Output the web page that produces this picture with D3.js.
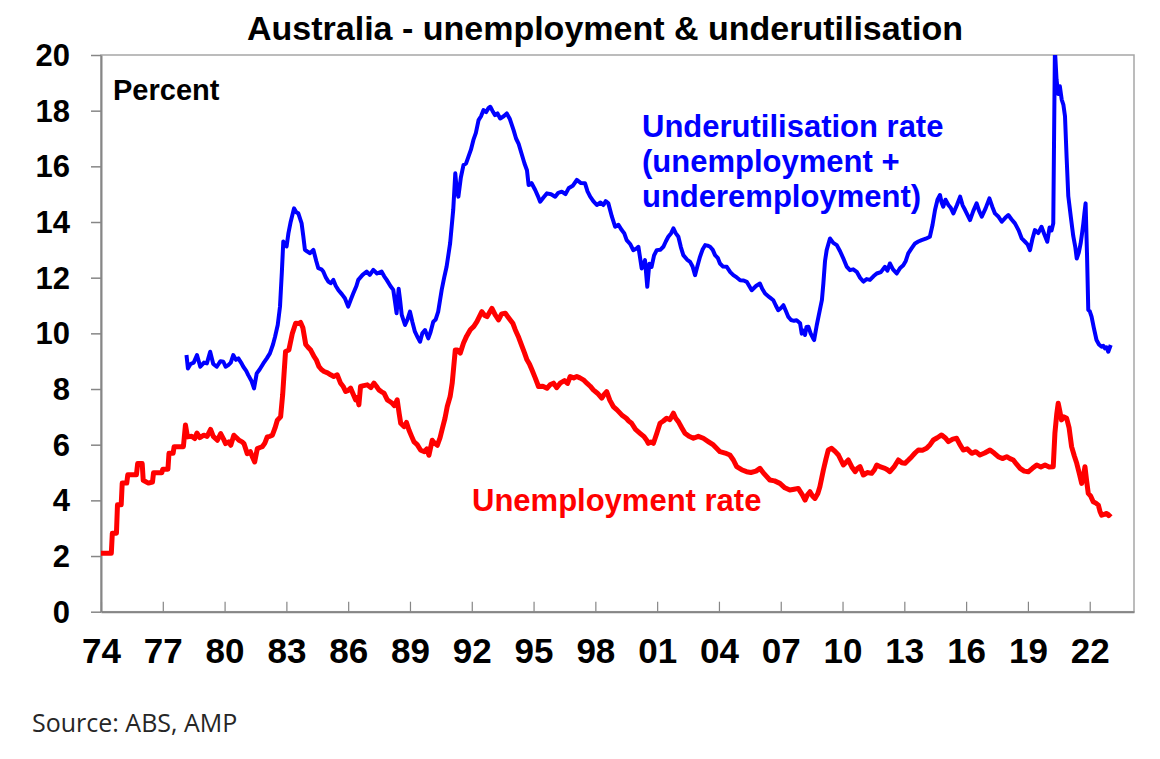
<!DOCTYPE html>
<html>
<head>
<meta charset="utf-8">
<script src="https://cdn.jsdelivr.net/npm/d3@7"></script>
<style>
  body { margin: 0; background: #fff; }
  text { font-family: Arial, "Liberation Sans", sans-serif; }
</style>
</head>
<body>
<div id="chart"></div>
<script>
// [decimal year, percent]
const unemployment = [
  [1974.00,2.10],[1974.50,2.10],[1974.55,2.82],[1974.75,2.82],[1974.80,3.84],[1974.98,3.84],[1975.03,4.62],[1975.25,4.62],
  [1975.30,4.92],[1975.72,4.92],[1975.78,5.32],[1976.00,5.32],[1976.05,4.72],[1976.30,4.62],[1976.50,4.66],[1976.55,4.99],
  [1976.95,4.99],[1977.00,5.12],[1977.25,5.12],[1977.30,5.69],[1977.50,5.69],[1977.55,5.93],[1978.00,5.93],[1978.10,6.71],
  [1978.20,6.28],[1978.40,6.30],[1978.55,6.22],[1978.66,6.42],[1978.80,6.25],[1978.99,6.34],[1979.15,6.30],[1979.32,6.55],
  [1979.45,6.30],[1979.65,6.16],[1979.81,6.40],[1979.95,6.20],[1980.05,6.04],[1980.20,6.10],[1980.30,5.98],[1980.45,6.34],
  [1980.58,6.25],[1980.70,6.16],[1980.85,6.10],[1980.94,6.04],[1981.10,5.68],[1981.25,5.75],[1981.35,5.56],[1981.46,5.38],
  [1981.59,5.86],[1981.72,5.90],[1981.83,5.93],[1981.95,6.05],[1982.07,6.28],[1982.20,6.30],[1982.32,6.34],[1982.45,6.60],
  [1982.56,6.88],[1982.72,7.00],[1982.82,7.80],[1982.90,8.70],[1982.96,9.35],[1983.12,9.40],[1983.29,10.00],[1983.45,10.36],
  [1983.60,10.35],[1983.69,10.39],[1983.80,10.20],[1983.94,9.60],[1984.05,9.50],[1984.18,9.40],[1984.34,9.17],[1984.45,9.05],
  [1984.58,8.81],[1984.70,8.70],[1984.83,8.63],[1985.00,8.58],[1985.15,8.51],[1985.30,8.45],[1985.47,8.51],[1985.63,8.21],
  [1985.75,8.10],[1985.88,7.91],[1986.00,7.95],[1986.12,8.03],[1986.25,7.80],[1986.36,7.61],[1986.45,7.70],[1986.52,7.43],
  [1986.60,8.09],[1986.75,8.12],[1986.93,8.15],[1987.10,8.05],[1987.25,8.21],[1987.37,8.10],[1987.49,7.97],[1987.62,7.90],
  [1987.74,7.85],[1987.90,7.61],[1988.02,7.55],[1988.14,7.49],[1988.25,7.40],[1988.38,7.61],[1988.48,7.10],[1988.55,6.77],
  [1988.71,6.65],[1988.83,6.80],[1988.95,6.53],[1989.08,6.30],[1989.20,6.10],[1989.35,6.00],[1989.52,5.80],[1989.70,5.75],
  [1989.82,5.85],[1989.92,5.62],[1990.08,6.16],[1990.20,6.05],[1990.33,5.98],[1990.46,6.25],[1990.57,6.58],[1990.70,6.95],
  [1990.81,7.37],[1990.95,7.73],[1991.05,8.21],[1991.20,9.40],[1991.30,9.40],[1991.44,9.29],[1991.60,9.65],[1991.75,9.90],
  [1991.93,10.13],[1992.10,10.25],[1992.25,10.42],[1992.37,10.60],[1992.49,10.78],[1992.62,10.65],[1992.74,10.60],[1992.86,10.75],
  [1992.98,10.90],[1993.15,10.65],[1993.30,10.48],[1993.45,10.70],[1993.63,10.72],[1993.75,10.60],[1993.87,10.48],[1994.00,10.35],
  [1994.11,10.13],[1994.28,9.85],[1994.44,9.53],[1994.56,9.30],[1994.68,9.05],[1994.80,8.90],[1994.92,8.69],[1995.08,8.40],
  [1995.24,8.09],[1995.45,8.10],[1995.65,8.03],[1995.80,8.15],[1995.97,8.21],[1996.12,8.05],[1996.29,8.21],[1996.50,8.30],
  [1996.65,8.20],[1996.78,8.45],[1996.95,8.40],[1997.10,8.45],[1997.25,8.40],[1997.42,8.33],[1997.60,8.20],[1997.75,8.10],
  [1997.90,7.97],[1998.10,7.85],[1998.31,7.67],[1998.42,7.80],[1998.55,7.91],[1998.70,7.60],[1998.87,7.37],[1999.05,7.25],
  [1999.28,7.07],[1999.50,6.95],[1999.62,6.85],[1999.76,6.77],[1999.95,6.55],[2000.17,6.41],[2000.35,6.30],[2000.50,6.15],
  [2000.57,6.05],[2000.70,6.10],[2000.82,6.05],[2000.98,6.40],[2001.14,6.77],[2001.30,6.85],[2001.46,6.95],[2001.62,6.90],
  [2001.79,7.13],[2001.90,6.95],[2002.03,6.83],[2002.20,6.60],[2002.35,6.41],[2002.55,6.30],[2002.76,6.23],[2003.00,6.30],
  [2003.24,6.23],[2003.50,6.10],[2003.73,5.99],[2004.05,5.75],[2004.30,5.70],[2004.53,5.63],[2004.70,5.45],[2004.86,5.21],
  [2005.10,5.10],[2005.34,5.03],[2005.55,5.00],[2005.80,5.05],[2005.99,5.15],[2006.20,4.95],[2006.47,4.73],[2006.70,4.70],
  [2006.96,4.61],[2007.20,4.45],[2007.44,4.37],[2007.65,4.40],[2007.85,4.43],[2008.05,4.20],[2008.18,4.01],[2008.30,4.20],
  [2008.42,4.31],[2008.55,4.15],[2008.66,4.07],[2008.80,4.25],[2008.90,4.49],[2009.07,5.09],[2009.20,5.50],[2009.31,5.81],
  [2009.47,5.87],[2009.65,5.75],[2009.80,5.63],[2009.92,5.45],[2010.04,5.27],[2010.15,5.35],[2010.28,5.45],[2010.45,5.20],
  [2010.61,5.03],[2010.73,5.15],[2010.85,5.21],[2011.01,4.91],[2011.20,5.00],[2011.41,4.97],[2011.55,5.10],[2011.66,5.27],
  [2011.85,5.20],[2012.06,5.15],[2012.18,5.10],[2012.30,5.03],[2012.50,5.20],[2012.71,5.45],[2012.88,5.35],[2013.03,5.33],
  [2013.20,5.45],[2013.36,5.57],[2013.52,5.70],[2013.68,5.81],[2013.88,5.80],[2014.08,5.87],[2014.25,6.00],[2014.41,6.17],
  [2014.60,6.25],[2014.81,6.35],[2014.98,6.25],[2015.14,6.11],[2015.35,6.20],[2015.54,6.23],[2015.70,6.00],[2015.86,5.81],
  [2016.05,5.85],[2016.27,5.69],[2016.47,5.75],[2016.67,5.63],[2016.90,5.70],[2017.16,5.81],[2017.36,5.70],[2017.56,5.57],
  [2017.76,5.50],[2017.97,5.57],[2018.13,5.50],[2018.29,5.45],[2018.45,5.30],[2018.62,5.15],[2018.82,5.05],[2019.02,5.03],
  [2019.22,5.15],[2019.43,5.27],[2019.63,5.20],[2019.83,5.27],[2020.03,5.20],[2020.23,5.21],[2020.31,6.41],[2020.40,7.10],
  [2020.47,7.49],[2020.55,7.20],[2020.63,6.89],[2020.75,7.00],[2020.88,6.95],[2021.00,6.60],[2021.12,5.93],[2021.25,5.60],
  [2021.37,5.33],[2021.50,4.95],[2021.61,4.61],[2021.70,4.90],[2021.77,5.21],[2021.85,4.70],[2021.93,4.25],[2022.05,4.15],
  [2022.17,3.95],[2022.30,3.90],[2022.42,3.83],[2022.50,3.60],[2022.58,3.47],[2022.70,3.50],[2022.82,3.53],[2022.92,3.45],
  [2023.02,3.53]
];

const underutilisation = [
  [1978.15,9.22],[1978.22,8.74],[1978.35,8.90],[1978.50,8.95],[1978.66,9.22],[1978.82,8.80],[1979.00,8.95],[1979.14,8.92],
  [1979.30,9.34],[1979.45,8.90],[1979.62,8.80],[1979.80,9.00],[1979.94,8.98],[1980.05,8.80],[1980.18,8.86],[1980.30,8.95],
  [1980.42,9.22],[1980.55,9.05],[1980.67,9.10],[1980.80,8.95],[1980.91,8.80],[1981.05,8.65],[1981.15,8.50],[1981.30,8.30],
  [1981.43,8.02],[1981.56,8.56],[1981.70,8.70],[1981.88,8.92],[1982.05,9.10],[1982.20,9.28],[1982.35,9.60],[1982.45,9.88],
  [1982.58,10.30],[1982.69,10.96],[1982.78,12.20],[1982.85,13.30],[1983.01,13.12],[1983.10,13.60],[1983.21,14.01],[1983.37,14.49],
  [1983.48,14.35],[1983.58,14.31],[1983.74,13.95],[1983.82,13.50],[1983.90,13.00],[1984.00,12.95],[1984.15,12.88],[1984.31,13.00],
  [1984.45,12.60],[1984.55,12.34],[1984.70,12.30],[1984.79,12.22],[1984.92,12.00],[1985.04,11.86],[1985.15,11.80],[1985.28,11.92],
  [1985.40,11.70],[1985.52,11.56],[1985.70,11.40],[1985.84,11.26],[1986.00,10.96],[1986.12,11.20],[1986.25,11.44],[1986.40,11.70],
  [1986.49,11.92],[1986.70,12.10],[1986.90,12.22],[1987.05,12.10],[1987.22,12.28],[1987.40,12.15],[1987.62,12.22],[1987.75,12.05],
  [1987.87,11.92],[1988.05,11.70],[1988.19,11.56],[1988.28,11.10],[1988.35,10.72],[1988.45,11.60],[1988.52,11.20],[1988.60,10.66],
  [1988.76,10.30],[1988.88,10.50],[1989.00,10.78],[1989.12,10.40],[1989.24,10.06],[1989.38,9.85],[1989.49,9.70],[1989.60,10.00],
  [1989.73,10.12],[1989.89,9.82],[1990.00,10.05],[1990.13,10.42],[1990.25,10.50],[1990.37,10.78],[1990.54,11.56],[1990.66,12.00],
  [1990.78,12.40],[1990.95,13.24],[1991.10,14.44],[1991.20,15.75],[1991.27,15.15],[1991.35,14.91],[1991.47,15.60],[1991.60,16.05],
  [1991.72,16.10],[1991.84,16.35],[1991.96,16.60],[1992.08,16.95],[1992.20,17.20],[1992.33,17.66],[1992.45,17.80],[1992.57,18.02],
  [1992.70,17.95],[1992.82,18.10],[1992.90,18.14],[1993.00,18.00],[1993.13,17.84],[1993.25,17.90],[1993.38,17.72],[1993.55,17.80],
  [1993.70,17.90],[1993.85,17.70],[1994.03,17.30],[1994.15,17.00],[1994.27,16.82],[1994.44,16.40],[1994.56,16.10],[1994.68,15.86],
  [1994.76,15.33],[1994.90,15.40],[1995.08,15.15],[1995.20,14.95],[1995.32,14.73],[1995.50,14.90],[1995.65,15.03],[1995.85,15.00],
  [1996.05,14.91],[1996.20,15.05],[1996.37,15.09],[1996.55,15.00],[1996.70,15.21],[1996.90,15.30],[1997.10,15.51],[1997.30,15.40],
  [1997.50,15.39],[1997.62,15.10],[1997.75,14.91],[1997.90,14.75],[1998.07,14.61],[1998.25,14.70],[1998.39,14.61],[1998.50,14.75],
  [1998.63,14.67],[1998.80,14.20],[1998.96,13.83],[1999.12,13.90],[1999.28,13.71],[1999.40,13.60],[1999.52,13.35],[1999.70,13.20],
  [1999.84,12.99],[2000.00,13.05],[2000.09,13.11],[2000.25,12.33],[2000.41,12.63],[2000.52,11.67],[2000.62,12.50],[2000.73,12.39],
  [2000.85,12.80],[2000.98,12.99],[2001.15,13.00],[2001.30,13.11],[2001.42,13.30],[2001.54,13.47],[2001.68,13.60],[2001.79,13.77],
  [2001.90,13.60],[2002.03,13.47],[2002.15,13.10],[2002.27,12.81],[2002.45,12.65],[2002.60,12.57],[2002.72,12.40],[2002.84,12.09],
  [2002.95,12.40],[2003.08,12.75],[2003.20,13.00],[2003.33,13.17],[2003.45,13.15],[2003.57,13.11],[2003.70,13.00],[2003.81,12.81],
  [2003.95,12.70],[2004.05,12.51],[2004.20,12.40],[2004.38,12.39],[2004.55,12.20],[2004.70,12.09],[2004.88,12.00],[2005.03,11.91],
  [2005.20,11.90],[2005.35,11.85],[2005.47,11.70],[2005.59,11.55],[2005.80,11.70],[2005.99,11.79],[2006.10,11.60],[2006.24,11.43],
  [2006.45,11.30],[2006.64,11.19],[2006.76,11.00],[2006.88,10.83],[2007.00,10.90],[2007.13,11.01],[2007.25,10.80],[2007.37,10.59],
  [2007.50,10.48],[2007.65,10.45],[2007.77,10.47],[2007.94,10.36],[2008.02,9.99],[2008.12,10.10],[2008.18,9.94],[2008.25,10.23],
  [2008.34,10.24],[2008.45,10.00],[2008.58,9.81],[2008.62,9.76],[2008.75,10.30],[2008.90,10.84],[2009.00,11.20],[2009.07,11.80],
  [2009.15,12.60],[2009.23,12.99],[2009.31,13.20],[2009.39,13.41],[2009.55,13.25],[2009.72,13.17],[2009.88,12.95],[2010.04,12.69],
  [2010.20,12.40],[2010.36,12.27],[2010.52,12.30],[2010.69,12.21],[2010.85,12.00],[2011.01,11.86],[2011.17,11.95],[2011.33,11.92],
  [2011.50,12.05],[2011.66,12.15],[2011.86,12.20],[2012.06,12.39],[2012.18,12.25],[2012.30,12.51],[2012.45,12.30],[2012.63,12.15],
  [2012.80,12.35],[2012.95,12.45],[2013.07,12.60],[2013.19,12.87],[2013.35,13.05],[2013.52,13.23],[2013.68,13.30],[2013.84,13.35],
  [2014.04,13.40],[2014.24,13.47],[2014.37,13.90],[2014.49,14.43],[2014.61,14.80],[2014.73,14.97],[2014.81,14.70],[2014.89,14.55],
  [2015.00,14.80],[2015.14,14.61],[2015.26,14.50],[2015.38,14.31],[2015.55,14.60],[2015.71,14.91],[2015.83,14.60],[2015.95,14.43],
  [2016.07,14.25],[2016.19,14.07],[2016.35,14.40],[2016.51,14.67],[2016.63,14.40],[2016.76,14.19],[2016.95,14.50],[2017.13,14.85],
  [2017.27,14.55],[2017.40,14.31],[2017.56,14.20],[2017.73,14.01],[2017.90,14.15],[2018.05,14.25],[2018.20,14.10],[2018.37,13.95],
  [2018.55,13.70],[2018.70,13.41],[2018.85,13.30],[2018.98,13.20],[2019.10,12.99],[2019.22,13.40],[2019.34,13.71],[2019.50,13.60],
  [2019.66,13.83],[2019.80,13.55],[2019.94,13.29],[2020.05,13.80],[2020.15,13.70],[2020.23,13.95],[2020.31,20.20],[2020.39,19.12],
  [2020.47,18.60],[2020.55,18.88],[2020.64,18.40],[2020.72,18.22],[2020.80,17.80],[2020.88,16.30],[2020.96,14.93],[2021.08,14.20],
  [2021.20,13.50],[2021.30,13.10],[2021.37,12.69],[2021.47,12.90],[2021.56,13.23],[2021.63,13.60],[2021.69,13.95],[2021.74,14.30],
  [2021.80,14.67],[2021.87,12.80],[2021.93,10.84],[2022.00,10.80],[2022.09,10.60],[2022.20,10.20],[2022.33,9.76],[2022.45,9.60],
  [2022.58,9.52],[2022.66,9.55],[2022.74,9.46],[2022.82,9.50],[2022.90,9.34],[2023.02,9.58]
];

const yTicks = [0, 2, 4, 6, 8, 10, 12, 14, 16, 18, 20];
const xTickYears = [1974, 1977, 1980, 1983, 1986, 1989, 1992, 1995, 1998, 2001, 2004, 2007, 2010, 2013, 2016, 2019, 2022];
const xTickLabels = ['74', '77', '80', '83', '86', '89', '92', '95', '98', '01', '04', '07', '10', '13', '16', '19', '22'];
const underLabel = ['Underutilisation rate', '(unemployment +', 'underemployment)'];

const chart = {
    "width": 1160,
    "height": 759,
    "left": 101,
    "right": 1134,
    "top": 55,
    "bottom": 611.7
};

let svg = d3.select('#chart')
    .append('svg')
    .attr('width', chart.width)
    .attr('height', chart.height);

svg.append('rect')
    .attr('width', chart.width)
    .attr('height', chart.height)
    .attr('fill', '#fff');

let xScale = d3.scaleLinear()
    .domain([1974, 2024.15])
    .range([chart.left, chart.right]);

let yScale = d3.scaleLinear()
    .domain([0, 20])
    .range([chart.bottom, chart.top]);

// Plot frame
svg.append('rect')
    .attr('x', chart.left)
    .attr('y', chart.top)
    .attr('width', chart.right - chart.left)
    .attr('height', chart.bottom - chart.top)
    .attr('fill', 'none')
    .attr('stroke', '#a6a6a6')
    .attr('stroke-width', 1.5);

// Y axis
let yAxis = d3.axisLeft(yScale)
    .tickValues(yTicks)
    .tickSize(10)
    .tickSizeOuter(0)
    .tickPadding(21);

let yAxisG = svg.append('g')
    .attr('transform', `translate(${chart.left}, 0)`)
    .call(yAxis);

yAxisG.select('.domain').attr('stroke', '#868686').attr('stroke-width', 2);
yAxisG.selectAll('.tick line').attr('stroke', '#868686').attr('stroke-width', 1.5);
yAxisG.selectAll('.tick text')
    .attr('fill', '#000')
    .attr('dy', '0.34em')
    .style('font-size', '31px')
    .style('font-weight', 'bold')
    .style('font-family', 'Arial, "Liberation Sans", sans-serif');

// X axis
let xAxis = d3.axisBottom(xScale)
    .tickValues(xTickYears)
    .tickFormat((d, i) => xTickLabels[i])
    .tickSize(-10)
    .tickSizeOuter(0)
    .tickPadding(26);

let xAxisG = svg.append('g')
    .attr('transform', `translate(0, ${chart.bottom})`)
    .call(xAxis);

xAxisG.select('.domain').attr('stroke', '#868686').attr('stroke-width', 2);
xAxisG.selectAll('.tick line').attr('stroke', '#868686').attr('stroke-width', 1.2);
xAxisG.selectAll('.tick text')
    .attr('fill', '#000')
    .style('font-size', '35px')
    .style('font-weight', 'bold')
    .style('font-family', 'Arial, "Liberation Sans", sans-serif');

// Lines
svg.append('clipPath')
    .attr('id', 'plot-clip')
    .append('rect')
    .attr('x', chart.left)
    .attr('y', chart.top)
    .attr('width', chart.right - chart.left)
    .attr('height', chart.bottom - chart.top);

let line = d3.line()
    .x(d => xScale(d[0]))
    .y(d => yScale(d[1]));

let lines = svg.append('g')
    .attr('clip-path', 'url(#plot-clip)');

lines.append('path')
    .datum(unemployment)
    .attr('d', line)
    .attr('fill', 'none')
    .attr('stroke', '#ff0000')
    .attr('stroke-width', 5)
    .attr('stroke-linejoin', 'round');

lines.append('path')
    .datum(underutilisation)
    .attr('d', line)
    .attr('fill', 'none')
    .attr('stroke', '#0000ff')
    .attr('stroke-width', 4)
    .attr('stroke-linejoin', 'round');

// Texts
svg.append('text')
    .attr('x', 605)
    .attr('y', 40)
    .attr('text-anchor', 'middle')
    .style('font-size', '34px')
    .style('font-weight', 'bold')
    .text('Australia - unemployment & underutilisation');

svg.append('text')
    .attr('x', 113)
    .attr('y', 100)
    .style('font-size', '29px')
    .style('font-weight', 'bold')
    .text('Percent');

svg.append('g')
    .selectAll('text')
    .data(underLabel)
    .join('text')
        .attr('x', 642)
        .attr('y', (d, i) => 137 + i * 35)
        .attr('fill', '#0000ff')
        .style('font-size', '31px')
        .style('font-weight', 'bold')
        .text(d => d);

svg.append('text')
    .attr('x', 472)
    .attr('y', 511)
    .attr('fill', '#ff0000')
    .style('font-size', '31px')
    .style('font-weight', 'bold')
    .text('Unemployment rate');

svg.append('text')
    .attr('x', 32)
    .attr('y', 732)
    .attr('fill', '#262626')
    .style('font-size', '25px')
    .style('font-family', '"Open Sans", "Noto Sans", sans-serif')
    .text('Source: ABS, AMP');
</script>
</body>
</html>
